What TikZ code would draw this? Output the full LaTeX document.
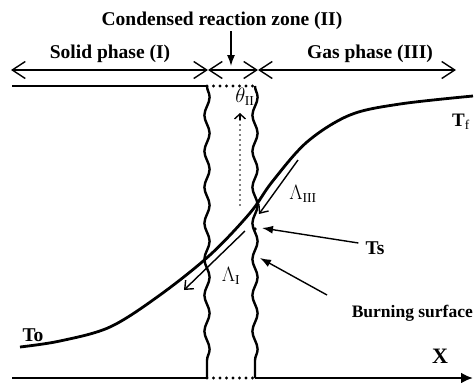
\documentclass[tikz,border=0pt]{standalone}
\usepackage{fontspec}
\setmainfont{Liberation Serif}
\usetikzlibrary{arrows.meta,positioning,decorations.pathmorphing}

\begin{document}
\begin{tikzpicture}[x=1pt,y=-1pt,
          every node/.style={font=\bfseries\fontsize{19.5}{22}\selectfont,inner sep=1pt},
          phase/.style={line width=1.4pt,
                        {Straight Barb[length=13pt,width=17pt]}-{Straight Barb[length=13pt,width=17pt]}},
          wall/.style={line width=2.8pt},
          front/.style={line width=2.4pt,decorate,
                        decoration={snake,amplitude=2.6pt,segment length=36pt}},
          dots/.style={line width=3.2pt,line cap=round,dash pattern=on 0pt off 6.5pt},
          flux/.style={line width=1.4pt,-{Straight Barb[length=7pt,width=12pt]}},
          point/.style={line width=1.4pt,-{Latex[length=11pt,width=8pt]}},
      ]
        \useasboundingbox (0,0) rectangle (475,383);

        % phase arrows along the top
        \coordinate (sL) at (11,70);
        \coordinate (zL) at (208,70);
        \coordinate (zR) at (258,70);
        \coordinate (gR) at (456,70);
        \draw[phase] (sL) -- (zL);
        \draw[phase] (zL) -- (zR);
        \draw[phase] (zR) -- (gR);

        \node (solid) at (110,54) {Solid phase (I)};
        \node (gas) at (370,54) {Gas phase (III)};
        \node (zone) at (222,21) {Condensed reaction zone (II)};
        \coordinate (zmid) at (231,66);
        \draw[point] (zmid |- zone.south) -- (zmid);

        % sample boundaries
        \coordinate (top0) at (12,86);
        \coordinate (topL) at (207,86);
        \coordinate (topR) at (255,86);
        \coordinate (bot0) at (12,378);
        \coordinate (botL) at (207,378);
        \coordinate (botR) at (255,378);
        \coordinate (botX) at (473,378);
        \draw[wall] (top0) -- (topL);
        \draw[dots] (topL) -- (topR);
        \draw[wall] (bot0) -- (botL);
        \draw[dots] (botL) -- (botR);
        \draw[wall,-{Latex[length=12pt,width=11pt]}] (botR) -- (botX);
        \node[font=\bfseries\fontsize{22}{24}\selectfont] (xax) at (440,356) {X};

        % reaction zone fronts
        \draw[front] (topL) -- (botL);
        \draw[front] (topR) -- (botR);

        % temperature profile
        \draw[line width=2.8pt] plot[smooth,tension=0.55] coordinates
          {(20,347) (60,341) (110,327) (160,295) (210,255) (250,213)
           (272,182) (307,142) (350,115) (400,104) (473,96)};
        \node (to) at (33,335) {To};
        \node[font=\bfseries\fontsize{19}{21}\selectfont] (tf) at (461,122) {T$_\mathrm{f}$};

        % dotted line and angle
        \coordinate (thb) at (240,205);
        \coordinate (tht) at (240,113);
        \draw[line width=1.8pt,line cap=round,dash pattern=on 0pt off 5pt] (thb) -- (tht);
        \draw[line width=1.4pt,-{Straight Barb[length=5pt,width=11pt]}] (240,120) -- (tht);
        \node (theta) at (245,97) {$\theta_{\mathrm{II}}$};

        % heat fluxes
        \coordinate (gA) at (298,160);
        \coordinate (gB) at (259,214);
        \draw[flux] (gA) -- (gB);
        \node (lamg) at (303,194) {$\Lambda_{\mathrm{III}}$};
        \coordinate (sA) at (245,231);
        \coordinate (sB) at (184,290);
        \draw[flux] (sA) -- (sB);
        \node (lams) at (231,276) {$\Lambda_{\mathrm{I}}$};

        % surface temperature and burning surface
        \coordinate (tsp) at (262,228);
        \fill (255,229) circle (1.8pt);
        \node (ts) at (375,248) {Ts};
        \draw[point] (ts.west) ++(-6,-5) -- (tsp);
        \coordinate (bsa) at (327,295);
        \coordinate (bsp) at (260,258);
        \node[anchor=east,font=\bfseries\fontsize{17.5}{20}\selectfont] (bs) at (474,313) {Burning surface};
        \draw[point] (bsa) -- (bsp);
      \end{tikzpicture}
\end{document}
